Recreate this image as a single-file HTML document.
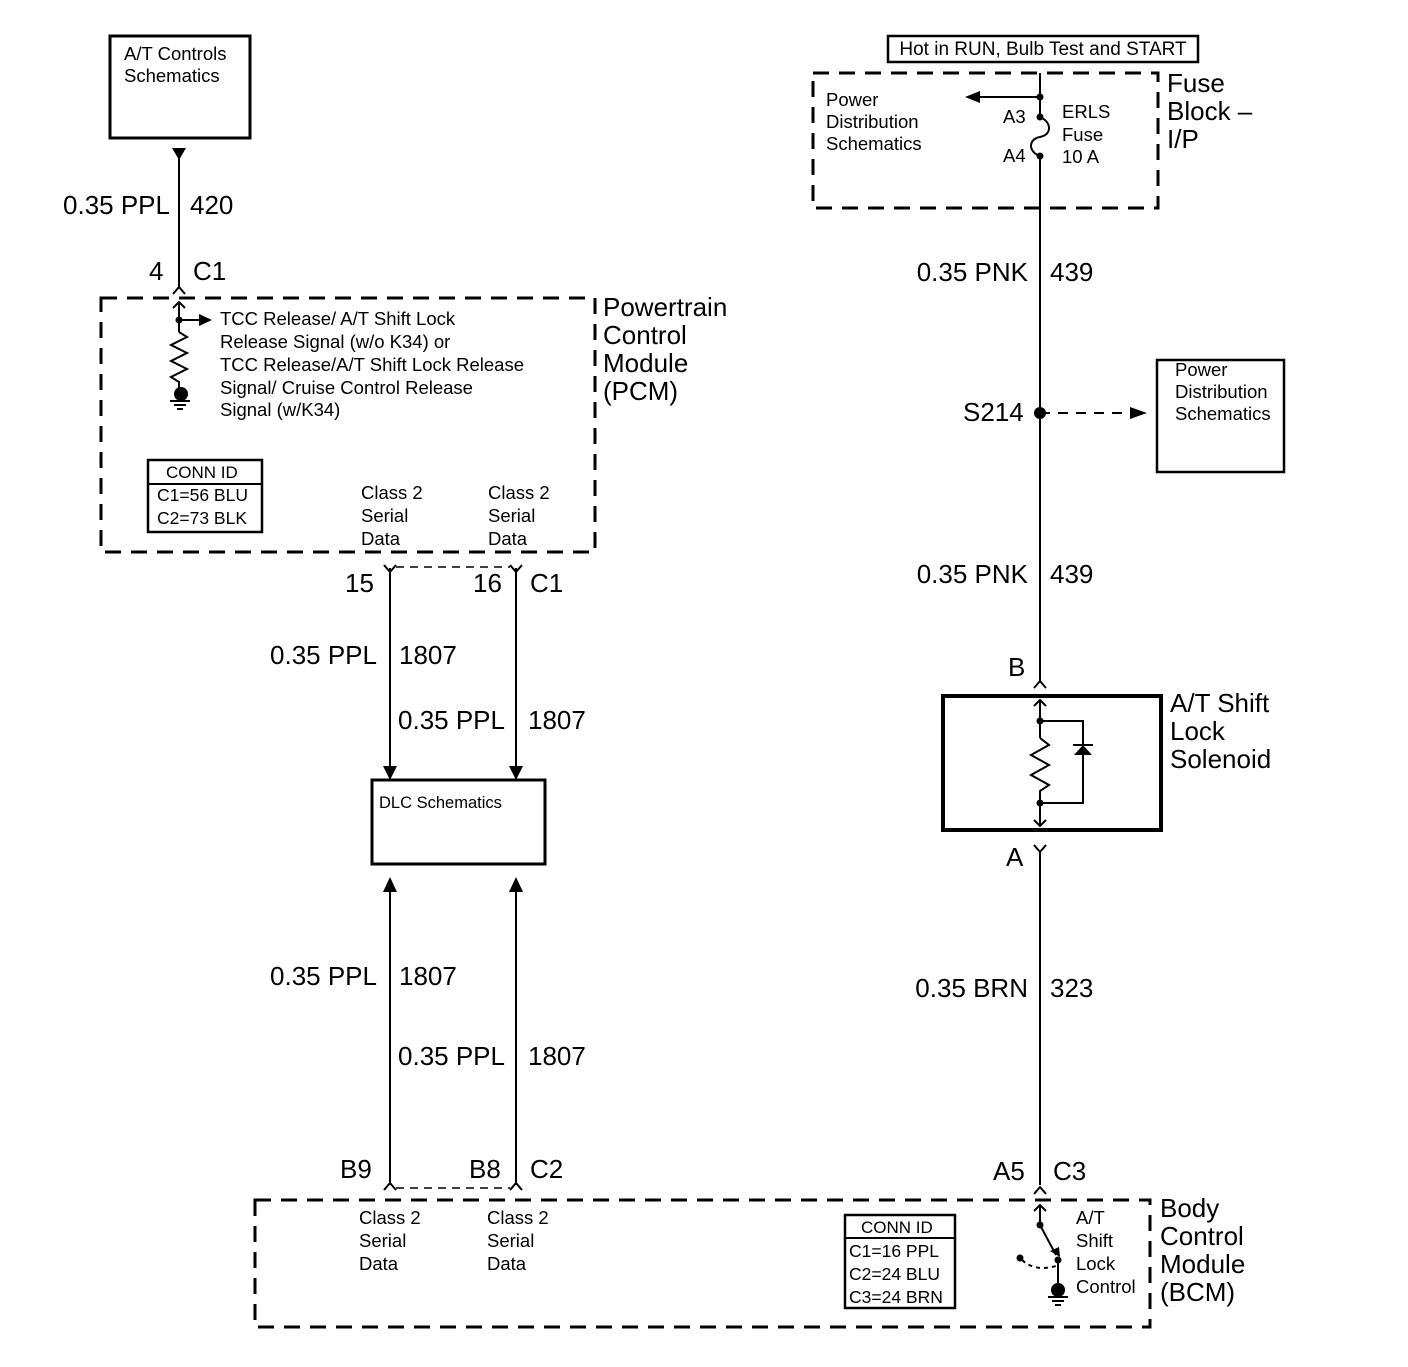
<!DOCTYPE html>
<html><head><meta charset="utf-8"><style>
html,body{margin:0;padding:0;background:#fff}
svg text{font-family:"Liberation Sans",Arial,sans-serif;fill:#000}
.s{font-size:18.5px}.b{font-size:26px}
</style></head><body>
<svg width="1408" height="1362" viewBox="0 0 1408 1362" xmlns="http://www.w3.org/2000/svg">
<g fill="none" stroke="#000" stroke-width="3">
<rect x="110" y="36" width="140" height="102"/>
<rect x="372" y="780" width="173" height="84"/>
<rect x="1157" y="360" width="127" height="112" stroke-width="2.5"/>
<rect x="943" y="696" width="218" height="134" stroke-width="4"/>
<rect x="888" y="36" width="310" height="26" stroke-width="2.5"/>
<rect x="148" y="460" width="114" height="72" stroke-width="2.5"/>
<line x1="148" y1="484" x2="262" y2="484" stroke-width="2"/>
<rect x="845" y="1215" width="110" height="93" stroke-width="2.5"/>
<line x1="845" y1="1238" x2="955" y2="1238" stroke-width="2"/>
<g stroke-dasharray="16,10">
<rect x="101" y="298" width="494" height="254"/>
<rect x="813" y="73" width="345" height="135"/>
<rect x="255" y="1200" width="895" height="127"/>
</g>
</g>
<g fill="none" stroke="#000" stroke-width="2">
<line x1="179" y1="150" x2="179" y2="288"/>
<polyline points="173,294 179,287 185,294"/>
<line x1="179" y1="302" x2="179" y2="332"/>
<polyline points="173,308 179,302 185,308"/>
<line x1="179" y1="320" x2="200" y2="320"/>
<polyline points="179,332 187,337 171,345 187,353 171,361 187,369 171,377 179,382 179,393"/>
<line x1="170" y1="401" x2="190" y2="401"/><line x1="174" y1="405" x2="186" y2="405"/><line x1="177" y1="409" x2="183" y2="409"/>
<line x1="390" y1="568" x2="390" y2="768"/><line x1="516" y1="568" x2="516" y2="768"/>
<polyline points="384,565 390,572 396,565"/><polyline points="510,565 516,572 522,565"/>
<line x1="396" y1="567" x2="510" y2="567" stroke-width="1.5" stroke-dasharray="8,6"/>
<line x1="390" y1="890" x2="390" y2="1185"/><line x1="516" y1="890" x2="516" y2="1185"/>
<polyline points="384,1190 390,1183 396,1190"/><polyline points="510,1190 516,1183 522,1190"/>
<line x1="396" y1="1188" x2="510" y2="1188" stroke-width="1.5" stroke-dasharray="8,6"/>
<line x1="1040" y1="73" x2="1040" y2="117"/>
<line x1="1040" y1="97" x2="980" y2="97"/>
<path d="M1040,117 C1052,122 1052,135 1040,137 C1028,139 1028,152 1040,156"/>
<line x1="1040" y1="156" x2="1040" y2="682"/>
<line x1="1040" y1="413" x2="1130" y2="413" stroke-dasharray="10,8"/>
<polyline points="1034,688 1040,681 1046,688"/>
<line x1="1040" y1="700" x2="1040" y2="738"/>
<polyline points="1034,706 1040,700 1046,706"/>
<polyline points="1040,738 1049,745 1031,755 1049,765 1031,775 1049,785 1040,791 1040,826"/>
<polyline points="1034,820 1040,826 1046,820"/>
<polyline points="1040,721 1083,721 1083,803 1040,803"/>
<line x1="1073" y1="745" x2="1093" y2="745"/>
<line x1="1040" y1="850" x2="1040" y2="1185"/>
<polyline points="1034,845 1040,852 1046,845"/>
<polyline points="1034,1194 1040,1187 1046,1194"/>
<line x1="1040" y1="1205" x2="1040" y2="1225"/>
<polyline points="1034,1211 1040,1205 1046,1211"/>
<line x1="1040" y1="1225" x2="1056" y2="1255"/>
<path d="M1022,1260 Q1035,1272 1056,1266" stroke-dasharray="4,4"/>
<line x1="1058" y1="1260" x2="1058" y2="1287"/>
<line x1="1048" y1="1297" x2="1068" y2="1297"/><line x1="1052" y1="1301" x2="1064" y2="1301"/><line x1="1055" y1="1305" x2="1061" y2="1305"/>
</g>
<g fill="#000">
<polygon points="172,148 186,148 179,160"/>
<polygon points="199,314 212,320 199,326"/>
<circle cx="179" cy="320" r="3.5"/><circle cx="181" cy="394" r="7"/>
<polygon points="383,766 397,766 390,780"/><polygon points="509,766 523,766 516,780"/>
<polygon points="383,892 397,892 390,877"/><polygon points="509,892 523,892 516,877"/>
<polygon points="980,91 980,103 965,97"/>
<circle cx="1040" cy="97" r="3.5"/><circle cx="1040" cy="117" r="3.5"/><circle cx="1040" cy="156" r="3.5"/>
<circle cx="1040" cy="413" r="6"/>
<polygon points="1130,407 1130,419 1147,413"/>
<circle cx="1040" cy="721" r="3.5"/><circle cx="1040" cy="803" r="3.5"/>
<polygon points="1074,755 1092,755 1083,745"/>
<circle cx="1040" cy="1225" r="3.5"/><circle cx="1058" cy="1260" r="3.5"/><circle cx="1020" cy="1258" r="3.5"/>
<polygon points="1050,1251 1060,1257 1059,1247"/>
<circle cx="1058" cy="1290" r="7"/>
</g>
<g class="s">
<text x="124" y="60">A/T Controls</text><text x="124" y="82">Schematics</text>
<text x="220" y="325">TCC Release/ A/T Shift Lock</text>
<text x="220" y="348">Release Signal (w/o K34) or</text>
<text x="220" y="371">TCC Release/A/T Shift Lock Release</text>
<text x="220" y="394">Signal/ Cruise Control Release</text>
<text x="220" y="416">Signal (w/K34)</text>
<text x="166" y="478" font-size="17">CONN ID</text><text x="157" y="501" font-size="17.5">C1=56 BLU</text><text x="157" y="524" font-size="17.5">C2=73 BLK</text>
<text x="361" y="499">Class 2</text><text x="361" y="522">Serial</text><text x="361" y="545">Data</text>
<text x="488" y="499">Class 2</text><text x="488" y="522">Serial</text><text x="488" y="545">Data</text>
<text x="379" y="808" font-size="16.5">DLC Schematics</text>
<text x="359" y="1224">Class 2</text><text x="359" y="1247">Serial</text><text x="359" y="1270">Data</text>
<text x="487" y="1224">Class 2</text><text x="487" y="1247">Serial</text><text x="487" y="1270">Data</text>
<text x="861" y="1233" font-size="17">CONN ID</text><text x="849" y="1257" font-size="17.5">C1=16 PPL</text><text x="849" y="1280" font-size="17.5">C2=24 BLU</text><text x="849" y="1303" font-size="17.5">C3=24 BRN</text>
<text x="1076" y="1224">A/T</text><text x="1076" y="1247">Shift</text><text x="1076" y="1270">Lock</text><text x="1076" y="1293">Control</text>
<text x="1043" y="55" text-anchor="middle" font-size="19">Hot in RUN, Bulb Test and START</text>
<text x="826" y="106">Power</text><text x="826" y="128">Distribution</text><text x="826" y="150">Schematics</text>
<text x="1062" y="118">ERLS</text><text x="1062" y="141">Fuse</text><text x="1062" y="163">10 A</text>
<text x="1003" y="123">A3</text><text x="1003" y="162">A4</text>
<text x="1175" y="376">Power</text><text x="1175" y="398">Distribution</text><text x="1175" y="420">Schematics</text>
</g>
<g class="b">
<text x="170" y="214" text-anchor="end">0.35 PPL</text><text x="190" y="214">420</text>
<text x="149" y="280">4</text><text x="193" y="280">C1</text>
<text x="603" y="316">Powertrain</text><text x="603" y="344">Control</text><text x="603" y="372">Module</text><text x="603" y="400">(PCM)</text>
<text x="345" y="592">15</text><text x="473" y="592">16</text><text x="530" y="592">C1</text>
<text x="377" y="664" text-anchor="end">0.35 PPL</text><text x="399" y="664">1807</text>
<text x="505" y="729" text-anchor="end">0.35 PPL</text><text x="528" y="729">1807</text>
<text x="377" y="985" text-anchor="end">0.35 PPL</text><text x="399" y="985">1807</text>
<text x="505" y="1065" text-anchor="end">0.35 PPL</text><text x="528" y="1065">1807</text>
<text x="340" y="1178">B9</text><text x="469" y="1178">B8</text><text x="530" y="1178">C2</text>
<text x="1160" y="1217">Body</text><text x="1160" y="1245">Control</text><text x="1160" y="1273">Module</text><text x="1160" y="1301">(BCM)</text>
<text x="1167" y="92">Fuse</text><text x="1167" y="120">Block –</text><text x="1167" y="148">I/P</text>
<text x="1028" y="281" text-anchor="end">0.35 PNK</text><text x="1050" y="281">439</text>
<text x="963" y="421">S214</text>
<text x="1028" y="583" text-anchor="end">0.35 PNK</text><text x="1050" y="583">439</text>
<text x="1008" y="676">B</text>
<text x="1170" y="712">A/T Shift</text><text x="1170" y="740">Lock</text><text x="1170" y="768">Solenoid</text>
<text x="1006" y="866">A</text>
<text x="1028" y="997" text-anchor="end">0.35 BRN</text><text x="1050" y="997">323</text>
<text x="993" y="1180">A5</text><text x="1053" y="1180">C3</text>
</g>
</svg>
</body></html>
